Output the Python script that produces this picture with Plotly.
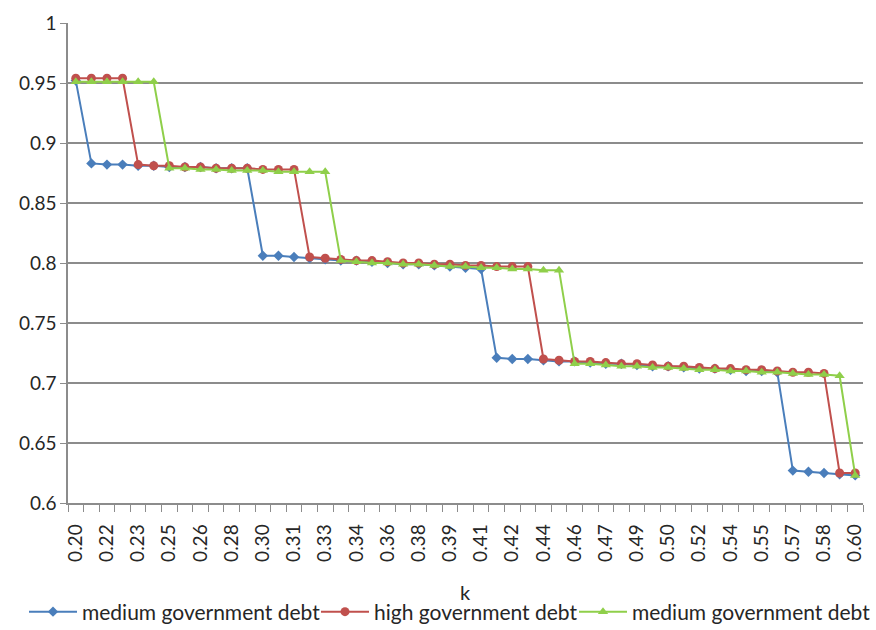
import plotly.graph_objects as go

# Parameter k (category axis values)
k_values = [
    0.200, 0.208, 0.216, 0.224, 0.232, 0.240, 0.248, 0.256, 0.264, 0.272,
    0.280, 0.288, 0.296, 0.304, 0.312, 0.320, 0.328, 0.336, 0.344, 0.352,
    0.360, 0.368, 0.376, 0.384, 0.392, 0.400, 0.408, 0.416, 0.424, 0.432,
    0.440, 0.448, 0.456, 0.464, 0.472, 0.480, 0.488, 0.496, 0.504, 0.512,
    0.520, 0.528, 0.536, 0.544, 0.552, 0.560, 0.568, 0.576, 0.584, 0.592,
    0.600,
]

medium_debt_a = [
    0.952,
    0.883, 0.882, 0.882, 0.881, 0.881, 0.880, 0.880, 0.880, 0.879, 0.879, 0.879,
    0.806, 0.806, 0.805, 0.804, 0.803, 0.802, 0.802, 0.801, 0.800, 0.799,
    0.799, 0.798, 0.797, 0.796, 0.795,
    0.721, 0.720, 0.720, 0.719, 0.718, 0.718, 0.717, 0.716, 0.716, 0.715,
    0.714, 0.714, 0.713, 0.712, 0.712, 0.711, 0.710, 0.710, 0.709,
    0.627, 0.626, 0.625, 0.624, 0.623,
]

high_debt = [
    0.954, 0.954, 0.954, 0.954,
    0.882, 0.881, 0.881, 0.880, 0.880, 0.879, 0.879, 0.879, 0.878, 0.878, 0.878,
    0.805, 0.804, 0.803, 0.802, 0.802, 0.801, 0.800, 0.800, 0.799, 0.799,
    0.798, 0.798, 0.797, 0.797, 0.797,
    0.720, 0.719, 0.718, 0.718, 0.717, 0.716, 0.716, 0.715, 0.714, 0.714,
    0.713, 0.712, 0.712, 0.711, 0.711, 0.710, 0.709, 0.709, 0.708,
    0.625, 0.625,
]

medium_debt_b = [
    0.951, 0.951, 0.951, 0.951, 0.951, 0.951,
    0.879, 0.879, 0.878, 0.878, 0.877, 0.877, 0.877, 0.876, 0.876, 0.876, 0.876,
    0.802, 0.801, 0.800, 0.800, 0.799, 0.799, 0.798, 0.797, 0.797, 0.796,
    0.796, 0.795, 0.795, 0.794, 0.794,
    0.716, 0.716, 0.715, 0.714, 0.714, 0.713, 0.713, 0.712, 0.711, 0.711,
    0.710, 0.710, 0.709, 0.709, 0.708, 0.707, 0.707, 0.706,
    0.623,
]

series_names = ["medium government debt", "high government debt", "medium government debt"]

y_ticks = [0.6, 0.65, 0.7, 0.75, 0.8, 0.85, 0.9, 0.95, 1.0]
y_tick_text = ["0.6", "0.65", "0.7", "0.75", "0.8", "0.85", "0.9", "0.95", "1"]

FONT = "Lato, 'Open Sans', sans-serif"
GRID = "#8c8c8c"
TEXT = "#262626"

styles = [
    dict(color="#4a7ebb", symbol="diamond", size=8),
    dict(color="#c0504d", symbol="circle", size=9),
    dict(color="#8fcf4a", symbol="triangle-up", size=9),
]

# one legend box per series so each entry sits at its own spot along the bottom
legend_ids = ["legend", "legend2", "legend3"]
legend_x = [24, 316, 574]

fig = go.Figure()
for name, vals, st, lg in zip(series_names, [medium_debt_a, high_debt, medium_debt_b],
                              styles, legend_ids):
    fig.add_trace(go.Scatter(
        x=k_values, y=vals, name=name, mode="lines+markers",
        line=dict(color=st["color"], width=2),
        marker=dict(color=st["color"], symbol=st["symbol"], size=st["size"]),
        legend=lg, showlegend=True,
    ))

legend_common = dict(
    orientation="h", xref="container", yref="container",
    y=1 - 612 / 630, xanchor="left", yanchor="middle",
    font=dict(size=21, color=TEXT), itemwidth=48,
    bgcolor="rgba(0,0,0,0)",
)

half = (k_values[1] - k_values[0]) / 2
boundaries = [k - half for k in k_values] + [k_values[-1] + half]
label_vals = k_values[::2]
label_text = [f"{k:.2f}" for k in label_vals]

fig.update_layout(
    width=876, height=630,
    margin=dict(l=68, r=11, t=20, b=127),
    paper_bgcolor="white", plot_bgcolor="white",
    font=dict(family=FONT, size=19, color=TEXT),
    showlegend=True,
    legend=dict(legend_common, x=legend_x[0] / 876),
    legend2=dict(legend_common, x=legend_x[1] / 876),
    legend3=dict(legend_common, x=legend_x[2] / 876),
    xaxis=dict(
        range=[boundaries[0], boundaries[-1]],
        tickmode="array", tickvals=label_vals, ticktext=label_text,
        tickangle=-90, ticks="outside", ticklen=12, tickcolor="rgba(0,0,0,0)",
        showline=True, linecolor=GRID, linewidth=1.5,
        showgrid=False, zeroline=False,
        tickfont=dict(size=19, color=TEXT),
        minor=dict(tickmode="array", tickvals=boundaries, ticks="outside",
                   ticklen=7, tickcolor=GRID, tickwidth=1, showgrid=False),
    ),
    yaxis=dict(
        range=[0.6, 1.0],
        tickmode="array", tickvals=y_ticks, ticktext=y_tick_text,
        ticks="outside", ticklen=6, tickcolor=GRID,
        showline=True, linecolor=GRID, linewidth=1.5,
        showgrid=True, gridcolor=GRID, gridwidth=1.5,
        zeroline=False,
        tickfont=dict(size=19, color=TEXT),
    ),
    annotations=[dict(
        text="k", xref="paper", yref="paper", x=0.5, y=-0.186,
        xanchor="center", yanchor="middle", showarrow=False,
        font=dict(size=20, color=TEXT),
    )],
)

fig.write_html("out.html")
